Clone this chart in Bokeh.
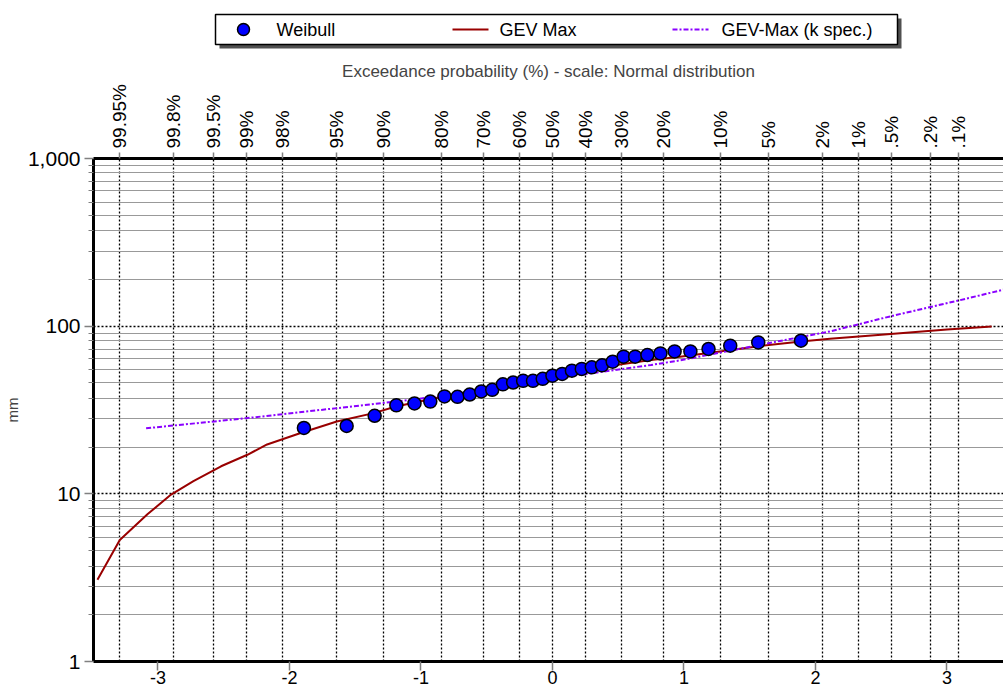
from bokeh.plotting import figure
from bokeh.models import Range1d, FixedTicker, LinearAxis, NumeralTickFormatter
from bokeh.layouts import column
from bokeh.core.properties import value
from bokeh.embed import file_html
from bokeh.resources import INLINE

# ---------------- data ----------------
series_names = ["Weibull", "GEV Max", "GEV-Max (k spec.)"]

# Weibull plotting positions (standard normal variate) and observed values (mm)
weibull_z = [-1.890, -1.565, -1.352, -1.187, -1.049, -0.929, -0.821, -0.722, -0.629,
             -0.541, -0.458, -0.377, -0.299, -0.223, -0.148, -0.074, 0.000, 0.074,
             0.148, 0.223, 0.299, 0.377, 0.458, 0.541, 0.629, 0.722, 0.821, 0.929,
             1.049, 1.187, 1.352, 1.565, 1.890]
weibull_mm = [24.7, 25.4, 29.2, 33.7, 34.6, 35.5, 38.1, 37.9, 39.1, 40.8, 41.7, 45.0,
              46.1, 47.2, 47.2, 48.5, 50.7, 51.9, 54.3, 55.6, 56.8, 58.4, 61.4, 65.8,
              65.8, 67.3, 68.8, 70.7, 70.7, 73.1, 76.5, 80.0, 81.9]

# GEV Max fitted curve
gev_z = [-3.46, -3.29, -3.08, -2.90, -2.73, -2.52, -2.32, -2.17, -1.92, -1.64, -1.36,
         -1.19, -0.83, -0.55, -0.40, -0.04, 0.47, 0.75, 0.97, 1.23, 1.57, 1.89, 2.11,
         2.50, 3.00, 3.34]
gev_mm = [3.07, 5.3, 7.55, 9.9, 11.9, 14.6, 17.1, 19.7, 23.0, 27.0, 30.3, 33.2, 38.1,
          41.5, 44.2, 50.3, 58.5, 62.9, 65.8, 70.0, 76.0, 81.0, 84.0, 89.0, 95.5, 99.5]

# GEV-Max (k specified) curve
gevk_z = [-3.09, -2.32, -1.19, -0.83, -0.04, 0.75, 0.97, 1.73, 2.11, 2.58, 3.10, 3.43]
gevk_mm = [24.6, 28.3, 35.5, 38.5, 48.2, 58.7, 62.5, 81.6, 93.0, 115.0, 143.0, 165.0]

# top axis: exceedance probability labels and their normal variates
prob_labels = ["99.95%", "99.8%", "99.5%", "99%", "98%", "95%", "90%", "80%", "70%",
               "60%", "50%", "40%", "30%", "20%", "10%", "5%", "2%", "1%", ".5%",
               ".2%", ".1%"]
prob_z = [-3.2905, -2.8782, -2.5758, -2.3263, -2.0537, -1.6449, -1.2816, -0.8416,
          -0.5244, -0.2533, 0.0, 0.2533, 0.5244, 0.8416, 1.2816, 1.6449, 2.0537,
          2.3263, 2.5758, 2.8782, 3.0902]

bottom_ticks = [-3, -2, -1, 0, 1, 2, 3]
bottom_labels = ["-3", "-2", "-1", "0", "1", "2", "3"]
y_major = [1, 10, 100, 1000]
y_minor = [d * (1 + 0.9 * k) for d in (1, 10, 100) for k in range(1, 10)]

FONT = "Liberation Sans"
RED = "#990000"
PURPLE = "#8a00ff"
BLUE = "#0000ff"
GRAY = "#808080"
DASHDOT = "5 2 2 2"

W = 1003
LEFT = 93
LEG_H = 58
MAIN_H = 691 - LEG_H

# ---------------- legend strip (coordinates = page pixels) ----------------
lg = figure(width=W, height=LEG_H, x_range=Range1d(LEFT, W), y_range=Range1d(LEG_H, 0),
            output_backend="svg", toolbar_location=None, title=None,
            min_border_left=LEFT, min_border_right=0, min_border_top=0, min_border_bottom=0,
            x_axis_location=None, y_axis_location=None, outline_line_color=None)
lg.grid.visible = False
lg.quad(left=[219], right=[901], top=[18], bottom=[48], fill_color="#505050", line_color=None)
lg.quad(left=[215], right=[897], top=[14], bottom=[44], fill_color="white",
        line_color="black", line_width=1.5)
lg.scatter(x=[243], y=[29], size=12, fill_color=BLUE, line_color="black", line_width=1.5)
lg.line(x=[452, 488], y=[29, 29], line_color=RED, line_width=2)
lg.line(x=[672, 708], y=[29, 29], line_color=PURPLE, line_width=2, line_dash=DASHDOT)
lg.text(x=[276, 499, 721], y=[29, 29, 29], text=series_names,
        text_font=value(FONT), text_font_size="18px", text_baseline="middle",
        text_color="black")

# ---------------- main chart ----------------
p = figure(width=W, height=MAIN_H, x_range=Range1d(-3.49, 3.43), y_range=Range1d(1, 1000),
           y_axis_type="log", output_backend="svg", toolbar_location=None,
           min_border_left=LEFT, min_border_right=0, min_border_top=98, min_border_bottom=30,
           outline_line_color=None)

p.title.text = "Exceedance probability (%) - scale: Normal distribution"
p.title.align = "center"
p.title.offset = 4
p.title.standoff = 2
p.title.text_font = FONT
p.title.text_font_size = "17px"
p.title.text_font_style = "normal"

# grids
p.xgrid.ticker = FixedTicker(ticks=prob_z)
p.xgrid.grid_line_color = "black"
p.xgrid.grid_line_dash = "2 2"
p.xgrid.grid_line_width = 1.3
p.ygrid.ticker = FixedTicker(ticks=y_major, minor_ticks=y_minor)
p.ygrid.grid_line_color = "black"
p.ygrid.grid_line_dash = "2 2"
p.ygrid.grid_line_width = 1.3
p.ygrid.minor_grid_line_color = "#999999"
p.ygrid.minor_grid_line_width = 1.2

# left axis
ya = p.yaxis[0]
ya.ticker = FixedTicker(ticks=y_major, minor_ticks=y_minor)
ya.formatter = NumeralTickFormatter(format="0,0")
ya.axis_line_width = 3
ya.axis_line_color = "black"
ya.major_tick_out = 9
ya.major_tick_in = 0
ya.minor_tick_out = 5
ya.minor_tick_in = 0
ya.major_tick_line_color = GRAY
ya.minor_tick_line_color = GRAY
ya.major_tick_line_width = 1.5
ya.major_label_standoff = 4
ya.major_label_text_font = FONT
ya.major_label_text_font_size = "21px"
ya.major_label_text_color = "black"
ya.axis_label = "mm"
ya.axis_label_text_font = FONT
ya.axis_label_text_font_size = "15px"
ya.axis_label_text_font_style = "normal"
ya.axis_label_standoff = 4

# bottom axis
xa = p.xaxis[0]
xa.ticker = FixedTicker(ticks=bottom_ticks)
xa.major_label_overrides = {t: s for t, s in zip(bottom_ticks, bottom_labels)}
xa.axis_line_width = 3
xa.axis_line_color = "black"
xa.major_tick_out = 9
xa.major_tick_in = 0
xa.minor_tick_line_color = None
xa.major_tick_line_color = GRAY
xa.major_tick_line_width = 1.5
xa.major_label_standoff = 0
xa.major_label_text_font = FONT
xa.major_label_text_font_size = "18px"
xa.major_label_text_color = "black"

# top axis (probability)
ta = LinearAxis(ticker=FixedTicker(ticks=prob_z),
                major_label_overrides={z: t for z, t in zip(prob_z, prob_labels)})
ta.axis_line_width = 3
ta.axis_line_color = "black"
ta.major_tick_out = 6
ta.major_tick_in = 0
ta.minor_tick_line_color = None
ta.major_tick_line_color = GRAY
ta.major_tick_line_width = 1.5
ta.major_label_standoff = 4
ta.major_label_orientation = "vertical"
ta.major_label_text_font = FONT
ta.major_label_text_font_size = "19px"
ta.major_label_text_color = "black"
p.add_layout(ta, "above")

# series
p.line(gev_z, gev_mm, line_color=RED, line_width=2)
p.line(gevk_z, gevk_mm, line_color=PURPLE, line_width=2, line_dash=DASHDOT)
p.scatter(weibull_z, weibull_mm, size=13, fill_color=BLUE, line_color="black", line_width=1.5)

layout = column(lg, p, spacing=0)
open("out.html", "w").write(file_html(layout, INLINE))
